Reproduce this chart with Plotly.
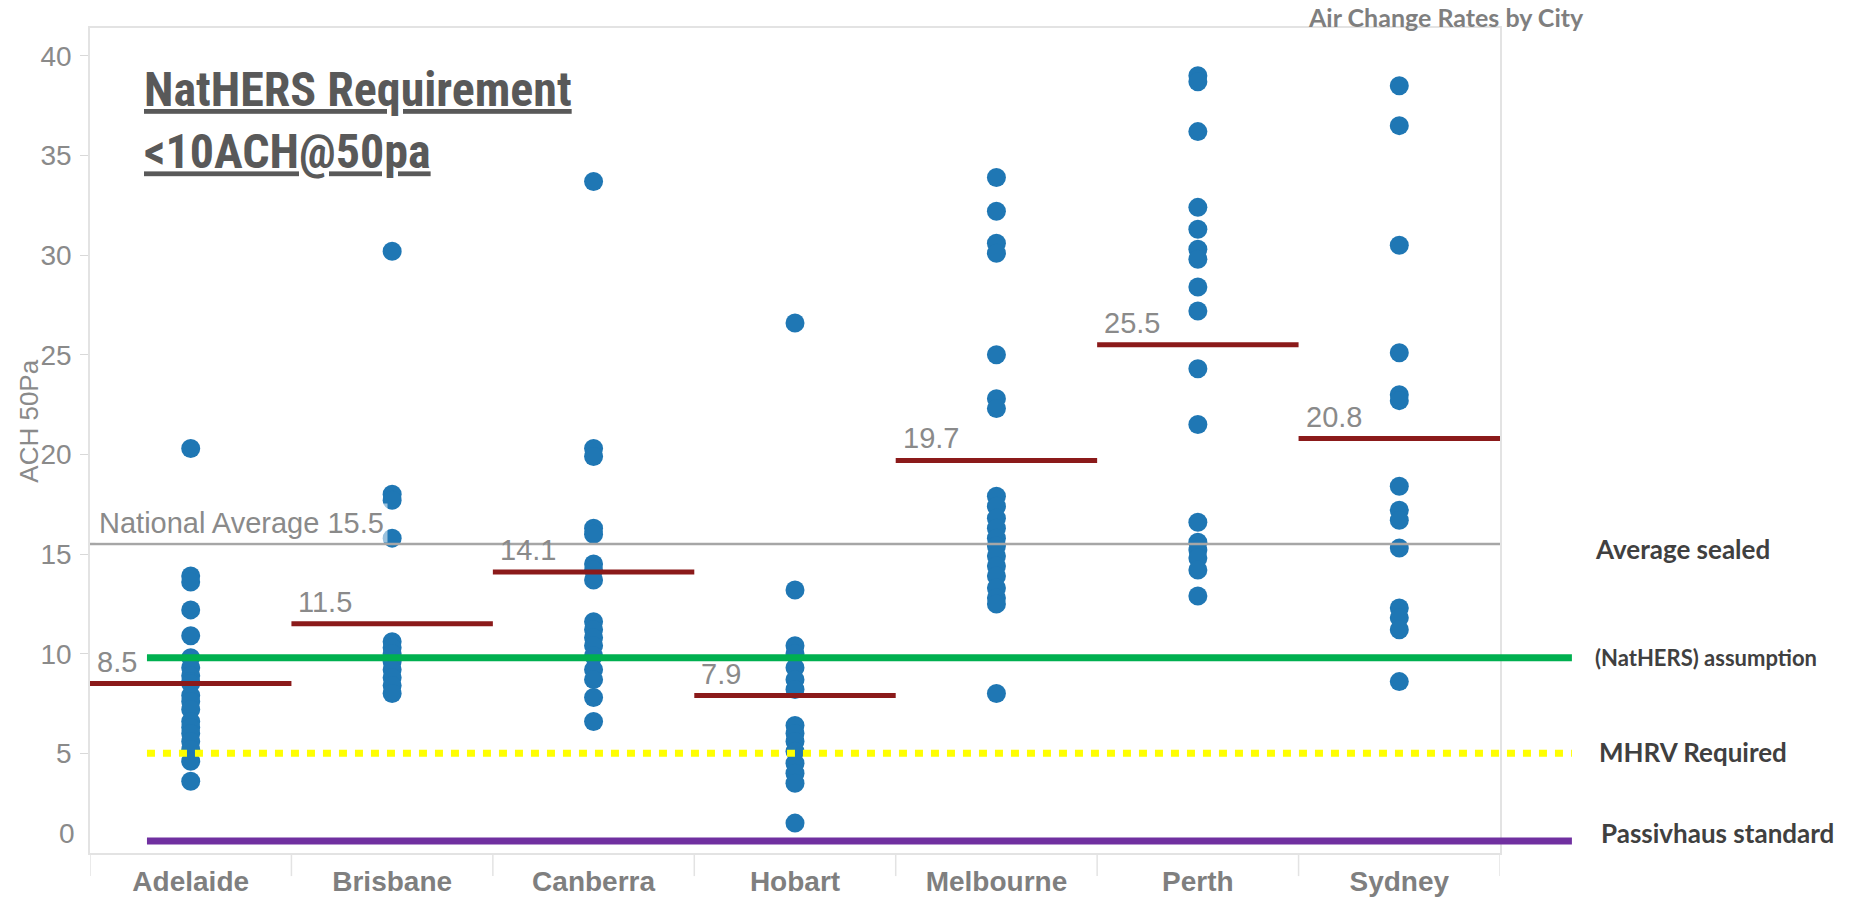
import plotly.graph_objects as go

# ---- data -------------------------------------------------------------
cities = ["Adelaide", "Brisbane", "Canberra", "Hobart", "Melbourne", "Perth", "Sydney"]

adelaide = [20.3, 13.9, 13.6, 12.2, 10.9, 9.8, 9.3, 8.9, 8.6, 8.5, 7.9, 7.6, 7.2, 6.6, 6.3, 6.0, 5.6, 5.2, 4.6, 3.6]
brisbane = [30.2, 18.0, 17.7, 15.8, 10.6, 10.3, 10.0, 9.6, 9.2, 8.8, 8.4, 8.0]
canberra = [33.7, 20.3, 19.9, 16.3, 16.0, 14.5, 14.2, 13.7, 11.6, 11.2, 10.8, 10.4, 9.9, 9.2, 8.7, 7.8, 6.6]
hobart = [26.6, 13.2, 10.4, 10.0, 9.3, 8.7, 8.2, 6.4, 6.0, 5.6, 5.1, 4.5, 4.0, 3.5, 1.5]
melbourne = [33.9, 32.2, 30.6, 30.1, 25.0, 22.8, 22.3, 17.9, 17.4, 16.8, 16.3, 15.8, 15.4, 14.9,
             14.4, 13.9, 13.3, 12.8, 12.5, 8.0]
perth = [39.0, 38.7, 36.2, 32.4, 31.3, 30.3, 29.8, 28.4, 27.2, 24.3, 21.5, 16.6, 15.6, 15.2, 14.8, 14.2, 12.9]
sydney = [38.5, 36.5, 30.5, 25.1, 23.0, 22.7, 18.4, 17.2, 16.7, 15.3, 12.3, 11.8, 11.2, 8.6]

city_values = [adelaide, brisbane, canberra, hobart, melbourne, perth, sydney]
medians = [8.5, 11.5, 14.1, 7.9, 19.7, 25.5, 20.8]

national_average = 15.5
nathers_assumption = 9.8
mhrv_required = 5.0
passivhaus = 0.6

y_ticks = [5, 10, 15, 20, 25, 30, 35, 40]

# ---- styles -----------------------------------------------------------
DOT = "#1f77b4"
MEDIAN = "#8b1a1a"
GREY_TXT = "#8a8a8a"
DARK_TXT = "#404040"
ARIAL = "Liberation Sans, Arial, sans-serif"
CALIBRI = "Lato, Open Sans, sans-serif"
NARROW = "Liberation Sans Narrow, Arial Narrow, Roboto Condensed, sans-serif"

fig = go.Figure()

xs, ys = [], []
for city, vals in zip(cities, city_values):
    xs += [city] * len(vals)
    ys += vals

fig.add_trace(go.Scatter(
    x=xs, y=ys, mode="markers",
    marker=dict(color=DOT, size=19, line=dict(width=0)),
    showlegend=False, hoverinfo="x+y",
))

shapes = []
annotations = []

# per-city median bars and their labels
for i, m in enumerate(medians):
    shapes.append(dict(type="line", xref="x", yref="y", x0=i - 0.5, x1=i + 0.5, y0=m, y1=m,
                       line=dict(color=MEDIAN, width=5), layer="above"))
    annotations.append(dict(x=i - 0.5, y=m, xref="x", yref="y", text=f"{m:.1f}",
                            xanchor="left", yanchor="bottom", xshift=5, yshift=4, showarrow=False,
                            font=dict(family=ARIAL, size=29, color=GREY_TXT)))

# national average reference line
shapes.append(dict(type="line", xref="paper", yref="y", x0=0, x1=1,
                   y0=national_average, y1=national_average,
                   line=dict(color="#a6a6a6", width=2.5), layer="above"))
annotations.append(dict(x=0, y=national_average, xref="paper", yref="y",
                        text=f"National Average {national_average}",
                        xanchor="left", yanchor="bottom", xshift=5, yshift=1, showarrow=False,
                        bgcolor="rgba(255,255,255,0.55)", borderpad=3,
                        font=dict(family=ARIAL, size=29, color=GREY_TXT)))

# benchmark lines extending past the plot
x_start, x_end = 0.0404, 1.051
shapes.append(dict(type="line", xref="paper", yref="y", x0=x_start, x1=x_end,
                   y0=nathers_assumption, y1=nathers_assumption,
                   line=dict(color="#00b050", width=7), layer="above"))
shapes.append(dict(type="line", xref="paper", yref="y", x0=x_start, x1=x_end,
                   y0=mhrv_required, y1=mhrv_required,
                   line=dict(color="#ffff00", width=7, dash="8px,8px"), layer="above"))
shapes.append(dict(type="line", xref="paper", yref="y", x0=x_start, x1=x_end,
                   y0=passivhaus, y1=passivhaus,
                   line=dict(color="#7030a0", width=7), layer="above"))

# header dividers under the category axis
for i in range(len(cities) + 1):
    shapes.append(dict(type="line", xref="x", yref="paper", x0=i - 0.5, x1=i - 0.5,
                       y0=0, y1=-0.028, line=dict(color="#e3e3e3", width=1.5)))

# right-hand captions
label_x = 1.066
for text, yv, dx, dy, fs in [("Average sealed", national_average, 0, -5, 26),
                             ("(NatHERS) assumption", nathers_assumption, 0, 0, 22),
                             ("MHRV Required", mhrv_required, 4, 1, 26),
                             ("Passivhaus standard", passivhaus, 6, 8, 26)]:
    annotations.append(dict(x=label_x, y=yv, xref="paper", yref="y", text=f"<b>{text}</b>",
                            xanchor="left", yanchor="middle", xshift=dx, yshift=dy, showarrow=False,
                            font=dict(family=CALIBRI, size=fs, color=DARK_TXT)))

# chart title
annotations.append(dict(x=0.9617, y=1.0133, xref="paper", yref="paper",
                        text="<b>Air Change Rates by City</b>", xanchor="center", yanchor="middle",
                        showarrow=False, font=dict(family=CALIBRI, size=25, color="#7f7f7f")))

# headline requirement, two underlined lines
annotations.append(dict(x=0.037, y=0.962, xref="paper", yref="paper",
                        text="<b><u>NatHERS Requirement</u></b><br><b><u>&lt;10ACH@50pa</u></b>",
                        xanchor="left", yanchor="top", align="left", showarrow=False,
                        font=dict(family=NARROW, size=48, color="#595959")))

# axis title and the zero label sitting just above the frame
annotations.append(dict(x=-0.0435, y=0.5236, xref="paper", yref="paper", text="ACH 50Pa",
                        textangle=-90, showarrow=False, xanchor="center", yanchor="middle",
                        font=dict(family=ARIAL, size=26, color=GREY_TXT)))
annotations.append(dict(x=0, y=0, xref="paper", yref="y", text="0", xanchor="right",
                        yanchor="middle", xshift=-13, yshift=20, showarrow=False,
                        font=dict(family=ARIAL, size=28, color=GREY_TXT)))

fig.update_layout(
    width=1864, height=899,
    margin=dict(l=90, r=364, t=28, b=46, autoexpand=False),
    paper_bgcolor="white", plot_bgcolor="white",
    shapes=shapes, annotations=annotations,
    xaxis=dict(type="category", categoryorder="array", categoryarray=cities,
               range=[-0.5, len(cities) - 0.5], showgrid=False, zeroline=False,
               showline=True, linecolor="#e3e3e3", linewidth=1.5, mirror=True,
               ticks="", automargin=False,
               tickfont=dict(family=ARIAL, size=28, color="#7f7f7f", weight="bold"),
               ticklabelstandoff=3),
    yaxis=dict(range=[0, 41.4], tickvals=y_ticks, showgrid=False, zeroline=False,
               showline=True, linecolor="#e3e3e3", linewidth=1.5, mirror=True,
               ticks="outside", ticklen=8, tickcolor="#d9d9d9", automargin=False,
               tickfont=dict(family=ARIAL, size=28, color=GREY_TXT), ticklabelstandoff=3),
)

fig.write_html("out.html")
